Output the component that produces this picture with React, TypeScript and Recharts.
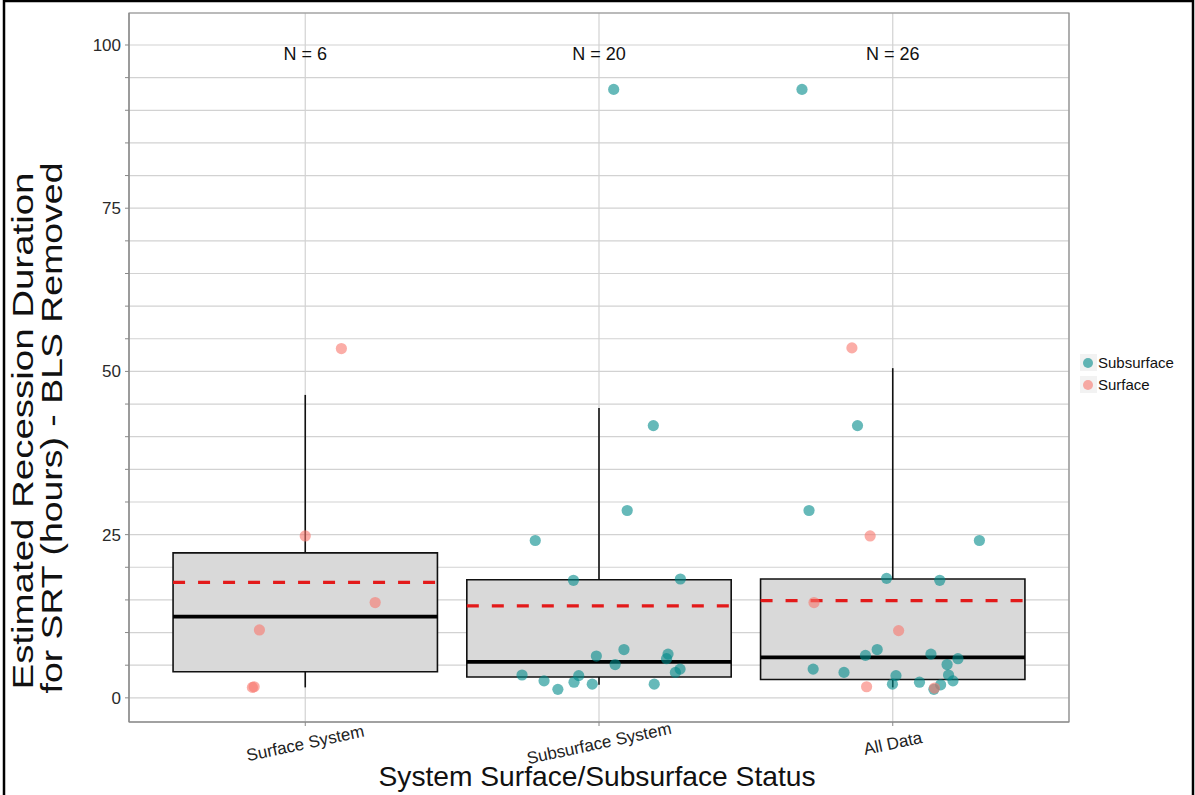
import {
  ScatterChart,
  Scatter,
  XAxis,
  YAxis,
  CartesianGrid,
  ReferenceArea,
  ReferenceLine,
  ReferenceDot,
  Legend,
} from "recharts";

const categoryNames = ["Surface System", "Subsurface System", "All Data"];
const nLabels = ["N = 6", "N = 20", "N = 26"];

// box statistics
const boxQ1 = [4.0, 3.2, 2.8];
const boxMedian = [12.45, 5.5, 6.2];
const boxQ3 = [22.2, 18.1, 18.2];
const boxMean = [17.7, 14.1, 14.9];
const whiskerLow = [1.6, 2.0, 1.6];
const whiskerHigh = [46.4, 44.4, 50.5];

// jittered points (jitter in category units)
const surfaceSystemValues = [53.5, 24.8, 14.6, 10.4, 1.6, 1.7];
const surfaceSystemJitter = [0.123, 0.0, 0.238, -0.156, -0.18, -0.174];

const subsurfaceSystemValues = [93.2, 41.7, 28.7, 24.1, 18.0, 18.2, 7.4, 6.4, 6.7, 6.0, 5.1, 3.5, 3.4, 4.4, 3.9, 2.6, 2.4, 2.1, 2.1, 1.3];
const subsurfaceSystemJitter = [0.05, 0.185, 0.096, -0.217, -0.087, 0.277, 0.085, -0.009, 0.235, 0.23, 0.055, -0.262, -0.069, 0.276, 0.26, -0.187, -0.085, -0.023, 0.188, -0.14];

const allDataValues = [93.2, 53.6, 41.7, 28.7, 24.8, 24.1, 18.3, 18.0, 14.6, 10.3, 7.4, 6.5, 6.7, 6.0, 5.1, 4.4, 3.9, 3.5, 3.4, 2.6, 2.4, 2.0, 2.1, 1.7, 1.5, 1.3];
const allDataJitter = [-0.309, -0.139, -0.12, -0.285, -0.077, 0.295, -0.021, 0.16, -0.268, 0.02, -0.053, -0.093, 0.13, 0.222, 0.185, -0.271, -0.166, 0.19, 0.011, 0.205, 0.091, 0.163, -0.001, -0.089, 0.142, 0.14];
const allDataType = [
  "Subsurface", "Surface", "Subsurface", "Subsurface", "Surface", "Subsurface", "Subsurface", "Subsurface", "Surface", "Surface",
  "Subsurface", "Subsurface", "Subsurface", "Subsurface", "Subsurface", "Subsurface", "Subsurface", "Subsurface", "Subsurface", "Subsurface",
  "Subsurface", "Subsurface", "Subsurface", "Surface", "Surface", "Subsurface",
];

const yTicks = [0, 5, 10, 15, 20, 25, 30, 35, 40, 45, 50, 55, 60, 65, 70, 75, 80, 85, 90, 95, 100];
const xTicks = [1, 2, 3];

const seriesColors: { [key: string]: string } = { Subsurface: "#008b8b", Surface: "#F8766D" };
const FONT = "'Liberation Sans', Arial, sans-serif";
const BOX_HALF = 0.45;

type Point = { x: number; y: number; type: string };

const buildPoints = (catIndex: number, values: number[], jitter: number[], types: string[]): Point[] =>
  values.map((v, i) => ({ x: catIndex + 1 + jitter[i], y: v, type: types[i] }));

const allPoints: Point[] = [
  ...buildPoints(0, surfaceSystemValues, surfaceSystemJitter, surfaceSystemValues.map(() => "Surface")),
  ...buildPoints(1, subsurfaceSystemValues, subsurfaceSystemJitter, subsurfaceSystemValues.map(() => "Subsurface")),
  ...buildPoints(2, allDataValues, allDataJitter, allDataType),
];

const subsurfacePoints = allPoints.filter((p) => p.type === "Subsurface");
const surfacePoints = allPoints.filter((p) => p.type === "Surface");

const dotShape = (color: string) => (props: any) => (
  <circle cx={props.cx} cy={props.cy} r={5.6} fill={color} fillOpacity={0.6} stroke="none" />
);

const YTick = (props: any) => {
  const { x, y, payload } = props;
  if (payload.value % 25 !== 0) return <g />;
  return (
    <text x={x - 2} y={y} dy={6} textAnchor="end" fontSize={17} fill="#2a2a2a" fontFamily={FONT}>
      {payload.value}
    </text>
  );
};

const XTick = (props: any) => {
  const { x, y, payload } = props;
  const label = categoryNames[Math.round(payload.value) - 1];
  const cy = y + 15;
  return (
    <text x={x} y={cy} dy={6} textAnchor="middle" fontSize={17} fill="#222" fontFamily={FONT} transform={`rotate(-12, ${x}, ${cy})`}>
      {label}
    </text>
  );
};

const LegendContent = () => (
  <svg width={110} height={50}>
    {["Subsurface", "Surface"].map((name, i) => (
      <g key={name}>
        <rect x={2} y={2 + i * 22} width={17} height={17} fill="#f2f2f2" />
        <circle cx={10} cy={11 + i * 22} r={5} fill={seriesColors[name]} fillOpacity={0.6} />
        <text x={20} y={16 + i * 22} fontSize={15} fill="#111" fontFamily={FONT}>
          {name}
        </text>
      </g>
    ))}
  </svg>
);

const App = () => {
  return (
    <div style={{ position: "absolute", left: 0, top: 0, width: 1195, height: 795, background: "#fff" }}>
      <ScatterChart width={1195} height={795} margin={{ top: 13, right: 126, left: 0, bottom: 0 }}>
        <rect x={4} y={1} width={1189} height={820} fill="none" stroke="#000" strokeWidth={2.5} />
        <CartesianGrid stroke="#d2d2d2" strokeWidth={1.2} />
        <XAxis
          type="number"
          dataKey="x"
          domain={[0.4, 3.6]}
          ticks={xTicks}
          allowDataOverflow
          height={73}
          tick={<XTick />}
          tickSize={4}
          tickLine={{ stroke: "#888" }}
          axisLine={{ stroke: "#888" }}
        />
        <YAxis
          type="number"
          dataKey="y"
          domain={[-3.7, 104.9]}
          ticks={yTicks}
          allowDataOverflow
          width={129}
          tick={<YTick />}
          tickSize={4}
          tickLine={{ stroke: "#888" }}
          axisLine={{ stroke: "#888" }}
        />
        <ReferenceArea x1={0.4} x2={3.6} y1={-3.7} y2={104.9} fill="none" stroke="#8c8c8c" strokeWidth={1.2} />
        {categoryNames.map((name, i) => (
          <ReferenceLine
            key={`wl-${name}`}
            segment={[{ x: i + 1, y: whiskerLow[i] }, { x: i + 1, y: boxQ1[i] }]}
            stroke="#111"
            strokeWidth={1.6}
          />
        ))}
        {categoryNames.map((name, i) => (
          <ReferenceLine
            key={`wh-${name}`}
            segment={[{ x: i + 1, y: boxQ3[i] }, { x: i + 1, y: whiskerHigh[i] }]}
            stroke="#111"
            strokeWidth={1.6}
          />
        ))}
        {categoryNames.map((name, i) => (
          <ReferenceArea
            key={`box-${name}`}
            x1={i + 1 - BOX_HALF}
            x2={i + 1 + BOX_HALF}
            y1={boxQ1[i]}
            y2={boxQ3[i]}
            fill="#d9d9d9"
            fillOpacity={1}
            stroke="#111"
            strokeWidth={1.6}
          />
        ))}
        {categoryNames.map((name, i) => (
          <ReferenceLine
            key={`med-${name}`}
            segment={[{ x: i + 1 - BOX_HALF, y: boxMedian[i] }, { x: i + 1 + BOX_HALF, y: boxMedian[i] }]}
            stroke="#000"
            strokeWidth={3.8}
          />
        ))}
        {categoryNames.map((name, i) => (
          <ReferenceLine
            key={`mean-${name}`}
            segment={[{ x: i + 1 - BOX_HALF, y: boxMean[i] }, { x: i + 1 + BOX_HALF, y: boxMean[i] }]}
            stroke="#e31a1a"
            strokeWidth={3.2}
            strokeDasharray="12 13"
          />
        ))}
        {nLabels.map((n, i) => (
          <ReferenceDot
            key={`n-${i}`}
            x={i + 1}
            y={98.7}
            r={0}
            fill="none"
            stroke="none"
            label={{ value: n, position: "center", fontSize: 18, fill: "#111", fontFamily: FONT }}
          />
        ))}
        <Scatter name="Subsurface" data={subsurfacePoints} fill={seriesColors.Subsurface} shape={dotShape(seriesColors.Subsurface)} isAnimationActive={false} />
        <Scatter name="Surface" data={surfacePoints} fill={seriesColors.Surface} shape={dotShape(seriesColors.Surface)} isAnimationActive={false} />
        <Legend
          layout="horizontal"
          align="center"
          verticalAlign="middle"
          content={<LegendContent />}
          wrapperStyle={{ position: "absolute", left: 1078, top: 352, width: 110, height: 50 }}
        />
        <text transform="translate(33,431) rotate(-90)" textAnchor="middle" fontSize={29} fill="#111" fontFamily={FONT} textLength={517} lengthAdjust="spacingAndGlyphs">
          Estimated Recession Duration
        </text>
        <text transform="translate(62,428) rotate(-90)" textAnchor="middle" fontSize={29} fill="#111" fontFamily={FONT} textLength={531} lengthAdjust="spacingAndGlyphs">
          for SRT (hours) - BLS Removed
        </text>
        <text x={597} y={786} textAnchor="middle" fontSize={28} fill="#111" fontFamily={FONT} textLength={437} lengthAdjust="spacingAndGlyphs">
          System Surface/Subsurface Status
        </text>
      </ScatterChart>
    </div>
  );
};

export default App;
